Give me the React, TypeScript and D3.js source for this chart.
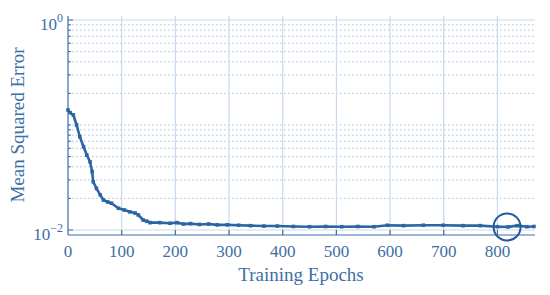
import React, { useRef, useEffect } from 'react';
import * as d3 from 'd3';

const epochs = [0, 4, 10, 16, 22, 29, 35, 41, 45, 47, 53, 60, 66, 74, 81, 94, 105, 115, 125, 131, 140, 147, 153, 171, 190, 203, 215, 228, 245, 262, 278, 297, 318, 340, 365, 390, 420, 450, 480, 510, 540, 570, 595, 625, 662, 699, 736, 768, 800, 820, 837, 855, 868];
const mse = [0.139, 0.131, 0.1245, 0.1, 0.0774, 0.0621, 0.0518, 0.0447, 0.0359, 0.0288, 0.0249, 0.0216, 0.0193, 0.0185, 0.018, 0.0161, 0.0155, 0.0149, 0.0145, 0.0139, 0.01245, 0.0121, 0.01175, 0.01175, 0.0116, 0.01175, 0.0114, 0.0115, 0.0113, 0.0114, 0.0112, 0.0112, 0.0111, 0.011, 0.0109, 0.0109, 0.0108, 0.01075, 0.0108, 0.01075, 0.0108, 0.01075, 0.0111, 0.011, 0.0111, 0.0111, 0.011, 0.011, 0.01075, 0.0107, 0.011, 0.01075, 0.0108];

const xTicks = [0, 100, 200, 300, 400, 500, 600, 700, 800];
const yMajor = [0.01, 1];
const yMinor = [0.02, 0.03, 0.04, 0.05, 0.06, 0.07, 0.08, 0.09, 0.1, 0.2, 0.3, 0.4, 0.5, 0.6, 0.7, 0.8, 0.9];
const highlightEpoch = 818;
const highlightMse = 0.0107;

const textColor = '#3d6fa6';
const lineColor = '#2b66a3';
const gridColor = '#c9daee';
const font = '"Liberation Serif", "DejaVu Serif", serif';

const App = () => {
  const svgRef = useRef<SVGSVGElement>(null);

  useEffect(() => {
    const svg = d3.select(svgRef.current);
    svg.selectAll('*').remove();

    const left = 68, right = 535, top = 16, bottom = 235;

    const x = d3.scaleLinear().domain([0, 870]).range([left, right]);
    const y = d3.scaleLog().domain([0.01, 1]).range([230, 20]);

    // minor dotted grid
    svg.append('g')
      .selectAll('line')
      .data(yMinor)
      .enter()
      .append('line')
      .attr('x1', left).attr('x2', right)
      .attr('y1', d => y(d)).attr('y2', d => y(d))
      .attr('stroke', '#a9c2df')
      .attr('stroke-width', 1)
      .attr('stroke-dasharray', '1.5,2.5');

    // major grid
    svg.append('g')
      .selectAll('line')
      .data(yMajor)
      .enter()
      .append('line')
      .attr('x1', left).attr('x2', right)
      .attr('y1', d => y(d)).attr('y2', d => y(d))
      .attr('stroke', gridColor)
      .attr('stroke-width', 1.2);

    svg.append('g')
      .selectAll('line')
      .data(xTicks.slice(1))
      .enter()
      .append('line')
      .attr('x1', d => x(d)).attr('x2', d => x(d))
      .attr('y1', top).attr('y2', bottom)
      .attr('stroke', gridColor)
      .attr('stroke-width', 1.2);

    // axes
    svg.append('line')
      .attr('x1', left).attr('x2', right)
      .attr('y1', bottom).attr('y2', bottom)
      .attr('stroke', textColor).attr('stroke-width', 1.2);
    svg.append('line')
      .attr('x1', left).attr('x2', left)
      .attr('y1', top).attr('y2', bottom)
      .attr('stroke', textColor).attr('stroke-width', 1.2);

    // x ticks
    svg.append('g')
      .selectAll('line')
      .data(xTicks.slice(1))
      .enter()
      .append('line')
      .attr('x1', d => x(d)).attr('x2', d => x(d))
      .attr('y1', bottom).attr('y2', bottom - 5)
      .attr('stroke', textColor).attr('stroke-width', 1.2);

    // y ticks
    svg.append('g')
      .selectAll('line')
      .data([...yMajor, ...yMinor])
      .enter()
      .append('line')
      .attr('x1', left).attr('x2', d => left + (yMajor.includes(d) ? 5 : 3))
      .attr('y1', d => y(d)).attr('y2', d => y(d))
      .attr('stroke', textColor).attr('stroke-width', 1);

    svg.append('g')
      .selectAll('text')
      .data(xTicks)
      .enter()
      .append('text')
      .attr('x', d => x(d))
      .attr('y', 257)
      .attr('text-anchor', 'middle')
      .attr('fill', textColor)
      .style('font-family', font)
      .style('font-size', '17px')
      .text(d => d);

    const yl = svg.append('g');
    yMajor.forEach(d => {
      const t = yl.append('text')
        .attr('x', 63)
        .attr('y', y(d) + 10)
        .attr('text-anchor', 'end')
        .attr('fill', textColor)
        .style('font-family', font)
        .style('font-size', '17px');
      t.append('tspan').text('10');
      t.append('tspan')
        .attr('dy', -8)
        .style('font-size', '12px')
        .text(Math.log10(d) === 0 ? '0' : '\u22122');
    });

    // curve
    const pts = epochs.map((e, i) => [e, mse[i]] as [number, number]);
    const line = d3.line<[number, number]>()
      .x(d => x(d[0]))
      .y(d => y(d[1]));
    svg.append('path')
      .datum(pts)
      .attr('d', line)
      .attr('fill', 'none')
      .attr('stroke', lineColor)
      .attr('stroke-width', 2.6)
      .attr('stroke-linejoin', 'round');

    svg.append('g')
      .selectAll('rect')
      .data(pts)
      .enter()
      .append('rect')
      .attr('x', d => x(d[0]) - 1.8)
      .attr('y', d => y(d[1]) - 1.8)
      .attr('width', 3.6)
      .attr('height', 3.6)
      .attr('fill', lineColor);

    svg.append('circle')
      .attr('cx', x(highlightEpoch))
      .attr('cy', y(highlightMse))
      .attr('r', 13.5)
      .attr('fill', 'none')
      .attr('stroke', '#22599a')
      .attr('stroke-width', 2);

    svg.append('text')
      .attr('x', 301)
      .attr('y', 281)
      .attr('text-anchor', 'middle')
      .attr('fill', textColor)
      .style('font-family', font)
      .style('font-size', '19px')
      .text('Training Epochs');

    svg.append('text')
      .attr('transform', 'translate(24, 125) rotate(-90)')
      .attr('text-anchor', 'middle')
      .attr('fill', textColor)
      .style('font-family', font)
      .style('font-size', '19px')
      .text('Mean Squared Error');
  }, []);

  return (
    <svg
      ref={svgRef}
      width={550}
      height={295}
      style={{ position: 'absolute', left: 0, top: 0, background: '#fff' }}
    />
  );
};

export default App;
